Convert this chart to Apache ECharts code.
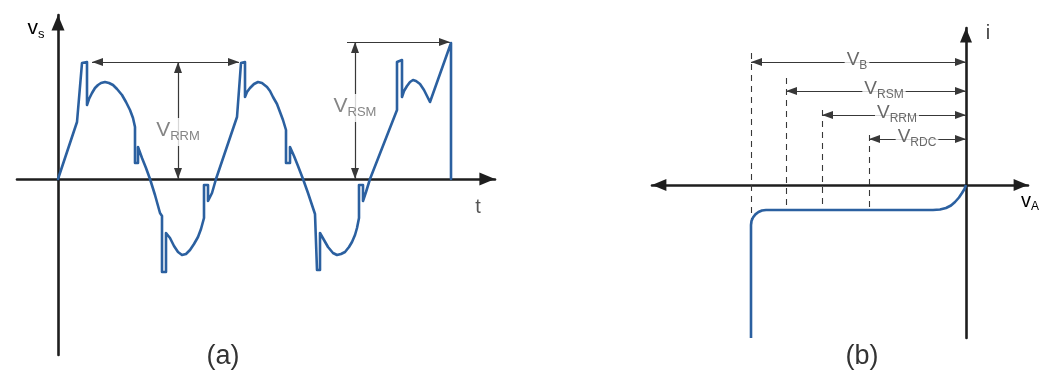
<!DOCTYPE html>
<html><head><meta charset="utf-8">
<script src="https://cdn.jsdelivr.net/npm/echarts@6/dist/echarts.min.js"></script>
<style>html,body{margin:0;padding:0;background:#fff}#c{width:1039px;height:380px}</style>
</head><body><div id="c"></div>
<script>
// ---------- Panel (a): reverse voltage waveform v_s(t) ----------
const waveT = [0,1.9,2.4,2.5,2.9,
  2.9,3.1,3.4,3.7,4.0,4.3,4.7,5.1,5.5,5.9,6.4,6.8,7.2,7.5,7.7,
  7.7,8.0,8.0,8.4,8.8,9.2,
  9.7,10.2,10.4,10.4,10.8,
  10.8,11.2,11.6,12.0,12.4,12.8,13.2,13.6,14.0,14.3,14.6,
  14.6,15.0,15.0,15.4,15.8,
  17.9,18.3,18.4,18.7,
  18.7,18.9,19.2,19.6,20.0,20.4,20.9,21.2,21.5,21.9,22.2,22.5,22.8,
  22.8,23.2,23.2,23.6,24.0,24.5,
  25.0,25.7,25.9,25.9,26.2,
  26.2,26.6,27.0,27.5,27.9,28.3,28.7,29.1,29.4,29.7,29.9,30.1,
  30.1,30.5,30.5,30.8,31.2,
  33.9,33.9,34.0,34.4,
  34.4,34.6,34.9,35.2,35.5,35.8,36.2,36.6,36.9,37.2,
  39.3,39.3];
const waveV = [0,57,116,117,117,
  74,80,86,91,94,96,97,96,94,90,84,77,69,61,52,
  16,16,32,21,11,0,
  -16,-34,-37,-93,-93,
  -54,-59,-67,-73,-76,-75,-71,-65,-58,-50,-39,
  -6,-6,-22,-14,0,
  62,116,117,117,
  82,87,91,95,97,96,92,88,82,75,67,59,49,
  16,16,32,23,13,0,
  -14,-35,-37,-91,-91,
  -54,-61,-68,-74,-76,-75,-73,-68,-63,-56,-49,-39,
  -6,-6,-22,-13,0,
  69,117,119,119,
  82,88,93,97,99,98,95,89,83,77,
  136,0];
const vRRM = 117;          // repetitive peak reverse voltage level
const vRSM = 137;          // non-repetitive peak reverse voltage level
const rrmSpanT = [3.4, 18.1];
const rrmAtT = 12.0;
const rsmSpanT = [28.9, 39.2];
const rsmAtT = 29.7;
const aLabelNames = ['RRM', 'RSM'];
const aLabelT = [12.0, 29.7];
const aLabelV = [47, 71];

// ---------- Panel (b): reverse characteristic i(vA) ----------
const curveVA = [-215,-215,-214.5,-213,-210.6,-207.5,-204,-200,
  -33,-26,-20,-15,-11,-7,-4,-1.5,0];
const curveI  = [-15.3,-4.0,-3.6,-3.25,-2.94,-2.7,-2.55,-2.5,
  -2.5,-2.45,-2.3,-2.05,-1.7,-1.25,-0.8,-0.4,0];
const bNames = ['B', 'RSM', 'RRM', 'RDC'];
const bVoltage = [-215, -180, -144, -97];
const bLevel = [12.3, 9.4, 7.0, 4.6];
const bDashTop = [13.2, 10.7, 7.5, 5.0];
const bDashBottom = [-4.0, -2.5, -2.5, -2.5];
const bLabelVA = [-109, -82, -69, -49];

const FONT = 'Liberation Sans, Arial, sans-serif';
const BLUE = '#2b60a0';
const AX = '#1e1e1e';
const DIM = '#383838';
// filled triangles whose tip sits at the symbol centre
const TIP = 'path://M5,0L10,12L0,12Z M5,-12L5,-12';
const TIP_SQ = 'path://M4,0L8,11L0,11Z M-7,-11L-7,-11 M15,11L15,11';

function richLabel(big, color) {
  return {
    v: {fontSize: big, fontFamily: FONT, color: color, lineHeight: 24, verticalAlign: 'top'},
    s: {fontSize: Math.round(big * 0.62), fontFamily: FONT, color: color, lineHeight: 14,
        padding: [10, 0, 0, 0], verticalAlign: 'top'}
  };
}

function axisBase(min, max, gridIndex, arrows, size) {
  return {
    type: 'value', gridIndex: gridIndex, min: min, max: max,
    axisLine: {show: true, onZero: true, symbol: arrows, symbolSize: size,
      lineStyle: {color: AX, width: 2.6}},
    axisTick: {show: false}, axisLabel: {show: false}, splitLine: {show: false}
  };
}

const chart = echarts.init(document.getElementById('c'), null, {renderer: 'canvas'});

const waveData = waveT.map((t, i) => [t, waveV[i]]);
const curveData = curveVA.map((v, i) => [v, curveI[i]]);

const option = {
  backgroundColor: '#ffffff',
  animation: false,
  grid: [
    {left: 17, top: 15, width: 478, height: 340},
    {left: 652, top: 28, width: 376, height: 310}
  ],
  xAxis: [
    axisBase(-4.1, 43.7, 0, ['none', TIP], [13, 34]),
    axisBase(-314, 62, 1, [TIP, TIP], [12, 30])
  ],
  yAxis: [
    axisBase(-176, 164, 0, ['none', TIP], [13, 34]),
    axisBase(-15.3, 15.7, 1, ['none', TIP], [12, 30])
  ],
  graphic: [
    {type: 'text', x: 36, y: 30, style: {text: '{v|v}{s|s}', rich: richLabel(21, '#555'), align: 'center', verticalAlign: 'middle'}},
    {type: 'text', x: 478, y: 207, style: {text: 't', font: '20px ' + FONT, fill: '#555', align: 'center', verticalAlign: 'middle'}},
    {type: 'text', x: 988, y: 33, style: {text: 'i', font: '20px ' + FONT, fill: '#444', align: 'center', verticalAlign: 'middle'}},
    {type: 'text', x: 1021, y: 203, style: {text: '{v|v}{s|A}', rich: richLabel(20, '#444'), align: 'left', verticalAlign: 'middle'}},
    {type: 'text', x: 223, y: 357, style: {text: '(a)', font: '27px ' + FONT, fill: '#333', align: 'center', verticalAlign: 'middle'}},
    {type: 'text', x: 862, y: 357, style: {text: '(b)', font: '27px ' + FONT, fill: '#333', align: 'center', verticalAlign: 'middle'}}
  ],
  series: [
    {
      type: 'line', xAxisIndex: 0, yAxisIndex: 0, data: waveData, showSymbol: false, clip: false, z: 5,
      lineStyle: {color: BLUE, width: 2.6, join: 'round', cap: 'round'}
    },
    {
      type: 'lines', coordinateSystem: 'cartesian2d', xAxisIndex: 0, yAxisIndex: 0, z: 4,
      symbol: [TIP_SQ, TIP_SQ], symbolSize: 22,
      lineStyle: {color: DIM, width: 1.2, opacity: 1},
      data: [
        {coords: [[rrmSpanT[0], vRRM], [rrmSpanT[1], vRRM]]},
        {coords: [[rrmAtT, vRRM], [rrmAtT, 0]]},
        {coords: [[rsmAtT, vRSM], [rsmAtT, 0]]}
      ]
    },
    {
      type: 'lines', coordinateSystem: 'cartesian2d', xAxisIndex: 0, yAxisIndex: 0, z: 4,
      symbol: ['none', TIP_SQ], symbolSize: 22,
      lineStyle: {color: DIM, width: 1.2, opacity: 1},
      data: [{coords: [[rsmSpanT[0], vRSM], [rsmSpanT[1], vRSM]]}]
    },
    {
      type: 'scatter', xAxisIndex: 0, yAxisIndex: 0, symbolSize: 1, z: 6,
      itemStyle: {color: 'transparent'},
      data: aLabelNames.map((n, i) => ({name: n, value: [aLabelT[i], aLabelV[i]]})),
      label: {show: true, position: 'inside', formatter: p => '{v|V}{s|' + p.name + '}',
        backgroundColor: '#fff', padding: [2, 1, 2, 1], rich: richLabel(21, '#666')}
    },
    {
      type: 'line', xAxisIndex: 1, yAxisIndex: 1, data: curveData, showSymbol: false, clip: false, z: 5,
      lineStyle: {color: BLUE, width: 2.6, join: 'round'}
    },
    {
      type: 'lines', coordinateSystem: 'cartesian2d', xAxisIndex: 1, yAxisIndex: 1, z: 3,
      lineStyle: {color: DIM, width: 1.1, type: [6, 5], opacity: 1},
      data: bVoltage.map((v, i) => ({coords: [[v, bDashTop[i]], [v, bDashBottom[i]]]}))
    },
    {
      type: 'lines', coordinateSystem: 'cartesian2d', xAxisIndex: 1, yAxisIndex: 1, z: 4,
      symbol: [TIP_SQ, TIP_SQ], symbolSize: 22,
      lineStyle: {color: DIM, width: 1.2, opacity: 1},
      data: bVoltage.map((v, i) => ({coords: [[v, bLevel[i]], [0, bLevel[i]]]}))
    },
    {
      type: 'scatter', xAxisIndex: 1, yAxisIndex: 1, symbolSize: 1, z: 6,
      itemStyle: {color: 'transparent'},
      data: bNames.map((n, i) => ({name: n, value: [bLabelVA[i], bLevel[i]]})),
      label: {show: true, position: 'inside', formatter: p => '{v|V}{s|' + p.name + '}',
        backgroundColor: '#fff', padding: [0, 2, 0, 2], rich: richLabel(19, '#444')}
    }
  ]
};
chart.setOption(option);
</script>
</body></html>
